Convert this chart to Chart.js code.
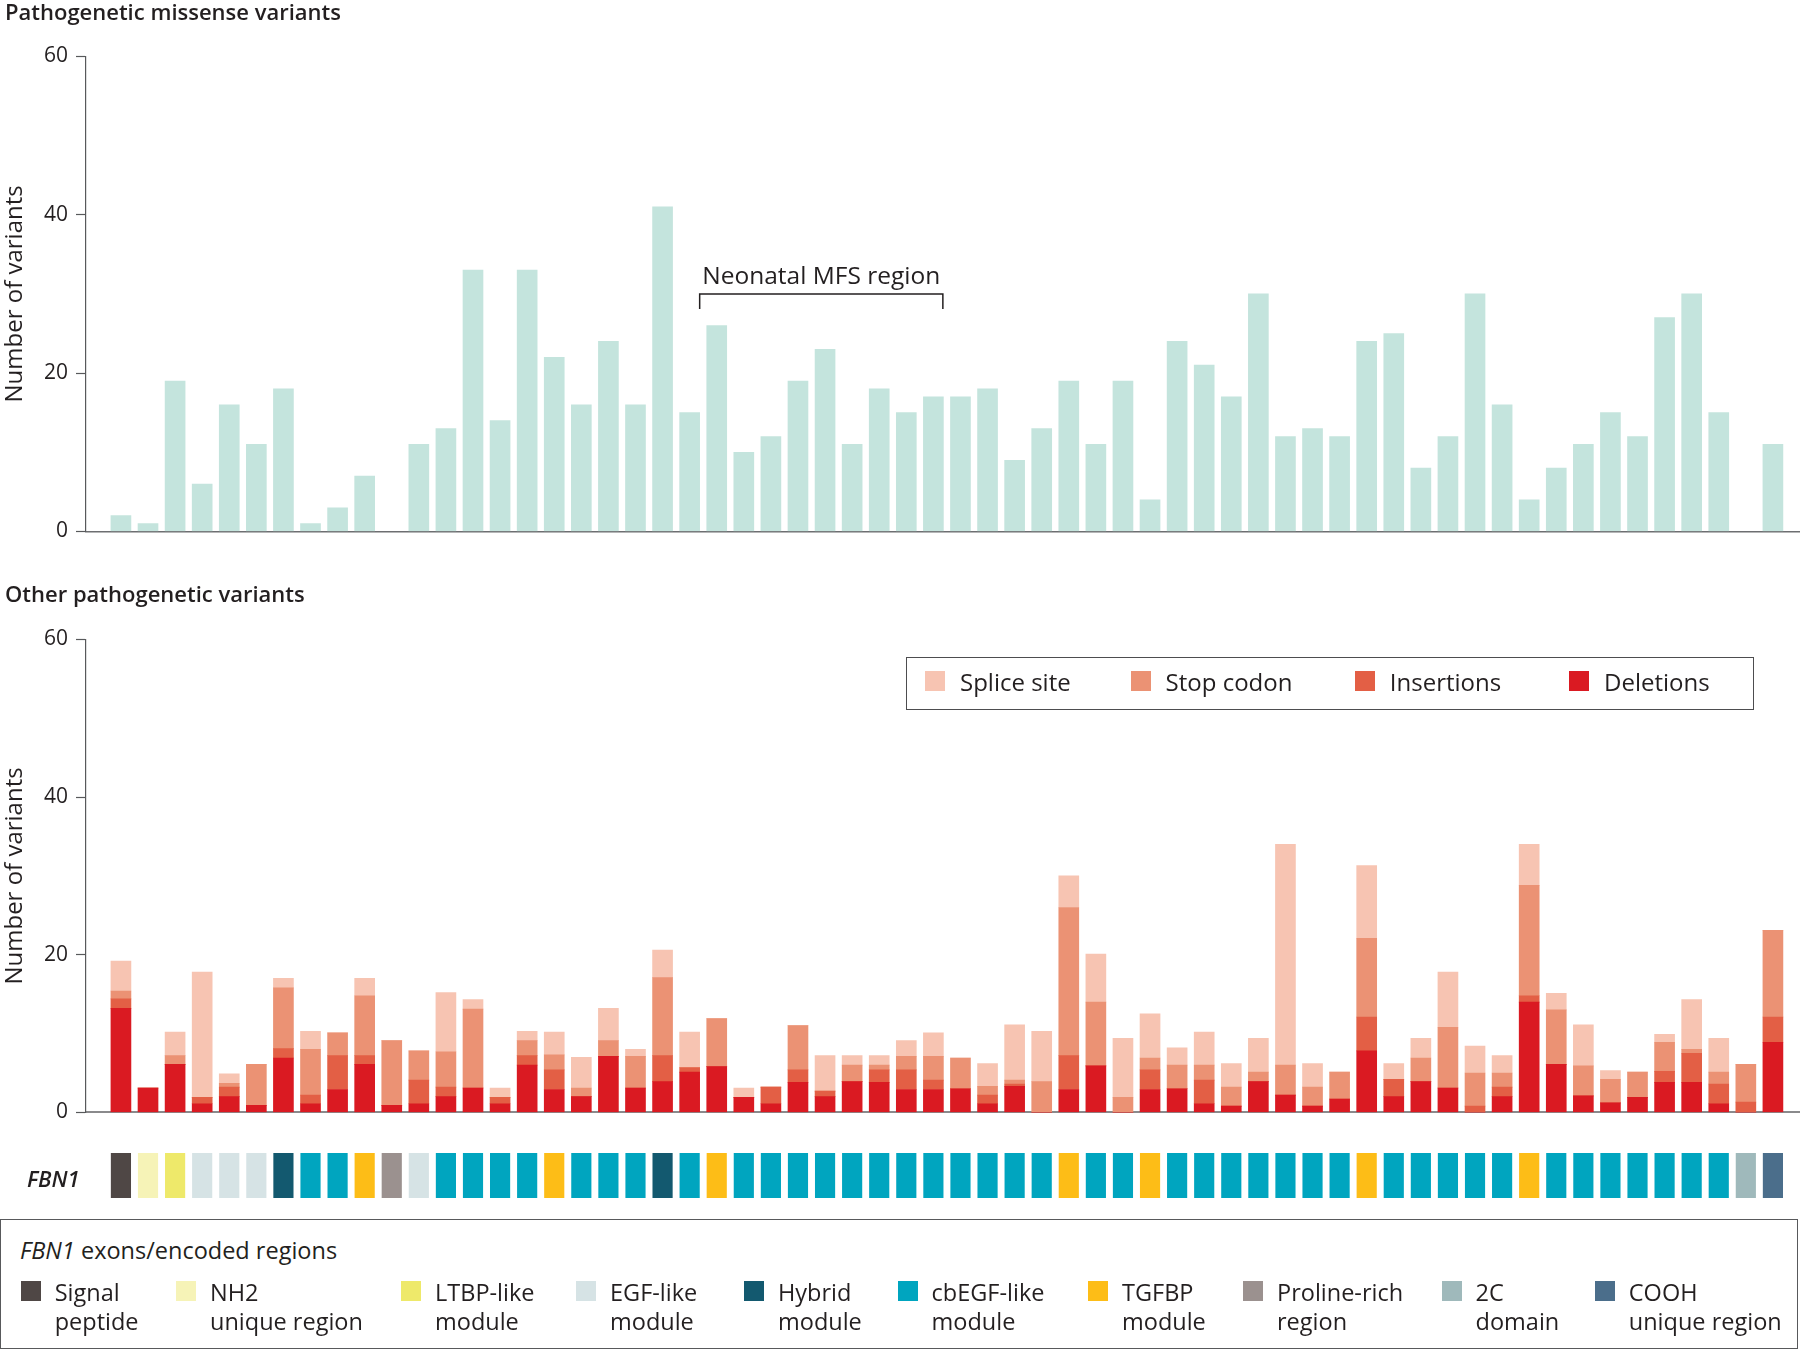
<!DOCTYPE html>
<html>
<head>
<meta charset="utf-8">
<script src="https://cdn.jsdelivr.net/npm/chart.js@4.4.1/dist/chart.umd.min.js"></script>
<style>
  body { margin: 0; width: 1800px; height: 1349px; position: relative; overflow: hidden; background: #fff;
         font-family: "Open Sans", "DejaVu Sans", sans-serif; color: #231f20; }
  canvas { position: absolute; left: 0; }
  .abs { position: absolute; white-space: nowrap; }
  .panelTitle { font-size: 22px; font-weight: 600; line-height: 22px; left: 5px; }
  .sw { position: absolute; width: 20px; height: 20px; }
  .box { position: absolute; box-sizing: border-box; }
</style>
</head>
<body>

<canvas id="topChart" width="1800" height="555" style="top:0"></canvas>
<div class="abs panelTitle" style="top:0px">Pathogenetic missense variants</div>

<canvas id="bottomChart" width="1800" height="574" style="top:560px"></canvas>
<div class="abs panelTitle" style="top:582px">Other pathogenetic variants</div>
<div class="box" id="typeLegend" style="left:906px;top:657px;width:848px;height:53px;border:1.5px solid #4d4d4f"></div>

<canvas id="exonStrip" width="1800" height="70" style="top:1140px"></canvas>
<div class="abs" style="left:27px;top:1167px;font-size:22px;line-height:22px;font-style:italic;font-weight:600">FBN1</div>

<div class="box" id="regionLegend" style="left:0;top:1219px;width:1798px;height:130px;border:1.5px solid #58595b"></div>
<div class="abs" style="left:20px;top:1239px;font-size:23.5px;line-height:23.5px"><i>FBN1</i> exons/encoded regions</div>

<script>
// ===============================
// 資料
// ===============================
// exon slots 1..62 along the gene
const exons = Array.from({ length: 62 }, (_, i) => i + 1);

const missense = [2, 1, 19, 6, 16, 11, 18, 1, 3, 7, null, 11, 13, 33, 14, 33, 22, 16, 24, 16, 41,
  15, 26, 10, 12, 19, 23, 11, 18, 15, 17, 17, 18, 9, 13, 19, 11, 19, 4, 24, 21, 17, 30, 12, 13, 12,
  24, 25, 8, 12, 30, 16, 4, 8, 11, 15, 12, 27, 30, 15, null, 11];

const deletions = [13.2, 3.1, 6.1, 1.1, 2.0, 0.9, 6.9, 1.1, 2.9, 6.1,
  0.9, 1.1, 2.0, 3.1, 1.1, 6.0, 2.9, 2.0, 7.1, 3.1,
  3.9, 5.1, 5.8, 1.9, 1.1, 3.8, 2.0, 3.9, 3.8, 2.9,
  2.9, 3.0, 1.1, 3.3, 0, 2.9, 5.9, 0, 2.9, 3.0,
  1.1, 0.8, 3.9, 2.2, 0.8, 1.7, 7.8, 2.0, 3.9, 3.1,
  0, 2.0, 14.0, 6.1, 2.1, 1.2, 1.9, 3.8, 3.8, 1.1,
  0, 8.9];
const insertions = [1.2, 0, 0, 0.8, 1.2, 0, 1.2, 1.1, 4.3, 1.1,
  0, 3.0, 1.2, 0, 0.8, 1.2, 2.5, 0, 0, 0,
  3.3, 0.6, 0, 0, 2.1, 1.6, 0.7, 0, 1.6, 2.5,
  1.2, 0, 1.1, 0.3, 0, 4.3, 0, 0, 2.5, 0,
  3.0, 0, 0, 0, 0, 0, 4.3, 2.2, 0, 0,
  0.8, 1.2, 0.8, 0, 0, 0, 0, 1.4, 3.7, 2.5,
  1.3, 3.2];
const stopCodon = [1.0, 0, 1.1, 0, 0.5, 5.2, 7.7, 5.8, 2.9, 7.6,
  8.2, 3.7, 4.5, 10.0, 0, 1.9, 1.9, 1.1, 2.0, 4.0,
  9.9, 0, 6.1, 0, 0, 5.6, 0, 2.1, 0.6, 1.7,
  3.0, 3.9, 1.1, 0.5, 3.9, 18.8, 8.1, 1.9, 1.5, 3.0,
  1.9, 2.4, 1.2, 3.8, 2.4, 3.4, 10.0, 0, 3.0, 7.7,
  4.2, 1.8, 14.0, 6.9, 3.8, 3.0, 3.2, 3.7, 0.5, 1.5,
  4.8, 11.0];
const spliceSite = [3.8, 0, 3.0, 15.9, 1.2, 0, 1.2, 2.3, 0, 2.2,
  0, 0, 7.5, 1.2, 1.2, 1.2, 2.9, 3.9, 4.1, 0.9,
  3.5, 4.5, 0, 1.2, 0, 0, 4.5, 1.2, 1.2, 2.0,
  3.0, 0, 2.9, 7.0, 6.4, 4.0, 6.1, 7.5, 5.6, 2.2,
  4.2, 3.0, 4.3, 28.0, 3.0, 0, 9.2, 2.0, 2.5, 7.0,
  3.4, 2.2, 5.2, 2.1, 5.2, 1.1, 0, 1.0, 6.3, 4.3,
  0, 0];

// encoded region of each exon
const exonRegion = ['SP', 'NH2', 'LTBP', 'EGF', 'EGF', 'EGF', 'HYB', 'CB', 'CB', 'TGF',
  'PRO', 'EGF', 'CB', 'CB', 'CB', 'CB', 'TGF', 'CB', 'CB', 'CB',
  'HYB', 'CB', 'TGF', 'CB', 'CB', 'CB', 'CB', 'CB', 'CB', 'CB',
  'CB', 'CB', 'CB', 'CB', 'CB', 'TGF', 'CB', 'CB', 'TGF', 'CB',
  'CB', 'CB', 'CB', 'CB', 'CB', 'CB', 'TGF', 'CB', 'CB', 'CB',
  'CB', 'CB', 'TGF', 'CB', 'CB', 'CB', 'CB', 'CB', 'CB', 'CB',
  '2C', 'COOH'];

const regionKeys = ['SP', 'NH2', 'LTBP', 'EGF', 'HYB', 'CB', 'TGF', 'PRO', '2C', 'COOH'];
const regionNames = [['Signal', 'peptide'], ['NH2', 'unique region'], ['LTBP-like', 'module'],
  ['EGF-like', 'module'], ['Hybrid', 'module'], ['cbEGF-like', 'module'], ['TGFBP', 'module'],
  ['Proline-rich', 'region'], ['2C', 'domain'], ['COOH', 'unique region']];

const typeNames = ['Splice site', 'Stop codon', 'Insertions', 'Deletions'];

// neonatal MFS bracket (exon units, y value)
const neonatalSpan = [22.37, 31.35];
const neonatalLevel = 30;

// ===============================
// 樣式
// ===============================
const FONT = '"Open Sans", "DejaVu Sans", sans-serif';
const INK = '#231f20';
const regionColors = {
  SP: '#4f4745', NH2: '#f6f3b7', LTBP: '#eee96a', EGF: '#d6e3e5', HYB: '#13596f',
  CB: '#00a5bf', TGF: '#fdbd17', PRO: '#9b918f', '2C': '#9fb9bb', COOH: '#4b6e8b'
};
const typeColors = ['#f7c4b2', '#eb9274', '#e35f45', '#da1a22'];
const X_MIN = -0.29, X_MAX = 63;

Chart.defaults.font.family = FONT;
Chart.defaults.color = INK;
Chart.defaults.animation = false;
Chart.defaults.plugins.legend.display = false;
Chart.defaults.plugins.tooltip.enabled = false;

function xScale(height, color, width) {
  return {
    type: 'linear', min: X_MIN, max: X_MAX, offset: false, stacked: true,
    ticks: { display: false },
    grid: { display: false, offset: false },
    border: { color: color, width: width },
    afterFit(s) { s.height = height; }
  };
}

function yScale() {
  return {
    min: 0, max: 60, stacked: true,
    ticks: { stepSize: 20, font: { size: 21 }, color: INK, padding: 8 },
    grid: { drawOnChartArea: false, tickLength: 10, tickColor: '#58595b', tickWidth: 1.2 },
    border: { color: '#58595b', width: 1.2 },
    title: { display: true, text: 'Number of variants', font: { size: 24 }, color: INK, padding: { top: 1, bottom: 0 } },
    afterFit(s) { s.width = 86; }
  };
}

const toPoints = arr => exons.map((x, i) => ({ x: x, y: arr[i] }));

// ===============================
// Neonatal MFS 括號
// ===============================
const bracketPlugin = {
  id: 'neonatalBracket',
  afterDatasetsDraw(chart) {
    const { ctx, scales: { x, y } } = chart;
    const x0 = x.getPixelForValue(neonatalSpan[0]);
    const x1 = x.getPixelForValue(neonatalSpan[1]);
    const yl = y.getPixelForValue(neonatalLevel);
    const yt = y.getPixelForValue(neonatalLevel - 1.9);
    ctx.save();
    ctx.strokeStyle = INK;
    ctx.lineWidth = 1.5;
    ctx.beginPath();
    ctx.moveTo(x0, yt); ctx.lineTo(x0, yl); ctx.lineTo(x1, yl); ctx.lineTo(x1, yt);
    ctx.stroke();
    ctx.fillStyle = INK;
    ctx.font = '24.5px ' + FONT;
    ctx.textAlign = 'center';
    ctx.textBaseline = 'alphabetic';
    ctx.fillText('Neonatal MFS region', (x0 + x1) / 2, yl - 10);
    ctx.restore();
  }
};

// ===============================
// 上圖：missense
// ===============================
new Chart(document.getElementById('topChart'), {
  type: 'bar',
  data: {
    datasets: [{
      label: 'Missense',
      data: toPoints(missense),
      backgroundColor: '#c4e4dd',
      barThickness: 20
    }]
  },
  options: {
    responsive: false,
    devicePixelRatio: 1,
    layout: { padding: { top: 56.3, right: 0, bottom: 0, left: 0 } },
    scales: { x: xScale(23.5, '#6d6e71', 1.5), y: yScale() }
  },
  plugins: [bracketPlugin]
});

// ===============================
// 下圖：其他變異（堆疊）
// ===============================
const stacks = [deletions, insertions, stopCodon, spliceSite];
const stackNames = ['Deletions', 'Insertions', 'Stop codon', 'Splice site'];
const stackColors = ['#da1a22', '#e35f45', '#eb9274', '#f7c4b2'];

new Chart(document.getElementById('bottomChart'), {
  type: 'bar',
  data: {
    datasets: stacks.map((arr, k) => ({
      label: stackNames[k],
      data: toPoints(arr),
      backgroundColor: stackColors[k],
      barThickness: 20,
      stack: 'all'
    }))
  },
  options: {
    responsive: false,
    devicePixelRatio: 1,
    layout: { padding: { top: 79.5, right: 0, bottom: 0, left: 0 } },
    scales: { x: xScale(21.6, '#8a8a8c', 2), y: yScale() }
  }
});

// ===============================
// FBN1 外顯子色條
// ===============================
new Chart(document.getElementById('exonStrip'), {
  type: 'bar',
  data: {
    datasets: [{
      label: 'FBN1',
      data: exons.map(x => ({ x: x, y: 1 })),
      backgroundColor: exonRegion.map(r => regionColors[r]),
      barThickness: 19.5
    }]
  },
  options: {
    responsive: false,
    devicePixelRatio: 1,
    layout: { padding: { top: 13, right: 0, bottom: 12, left: 86 } },
    scales: {
      x: { type: 'linear', min: X_MIN, max: X_MAX, offset: false, grid: { offset: false }, display: false },
      y: { min: 0, max: 1, display: false }
    }
  }
});

// ===============================
// 圖例（HTML）
// ===============================
const typeSwatchX = [925, 1130.6, 1354.8, 1569];
typeNames.forEach((name, k) => {
  const sw = document.createElement('div');
  sw.className = 'sw';
  sw.style.cssText = `left:${typeSwatchX[k]}px;top:671px;background:${typeColors[k]}`;
  document.body.appendChild(sw);
  const t = document.createElement('div');
  t.className = 'abs';
  t.style.cssText = `left:${typeSwatchX[k] + 35}px;top:670px;font-size:24px;line-height:24px`;
  t.textContent = name;
  document.body.appendChild(t);
});

const regionSwatchX = [20.7, 176, 401, 576, 744, 897.6, 1088, 1243, 1441.6, 1594.8];
regionKeys.forEach((key, k) => {
  const sw = document.createElement('div');
  sw.className = 'sw';
  sw.style.cssText = `left:${regionSwatchX[k]}px;top:1281px;background:${regionColors[key]}`;
  document.body.appendChild(sw);
  const t = document.createElement('div');
  t.className = 'abs';
  t.style.cssText = `left:${regionSwatchX[k] + 34}px;top:1278px;font-size:23.5px;line-height:29px`;
  t.innerHTML = regionNames[k].join('<br>');
  document.body.appendChild(t);
});
</script>
</body>
</html>
